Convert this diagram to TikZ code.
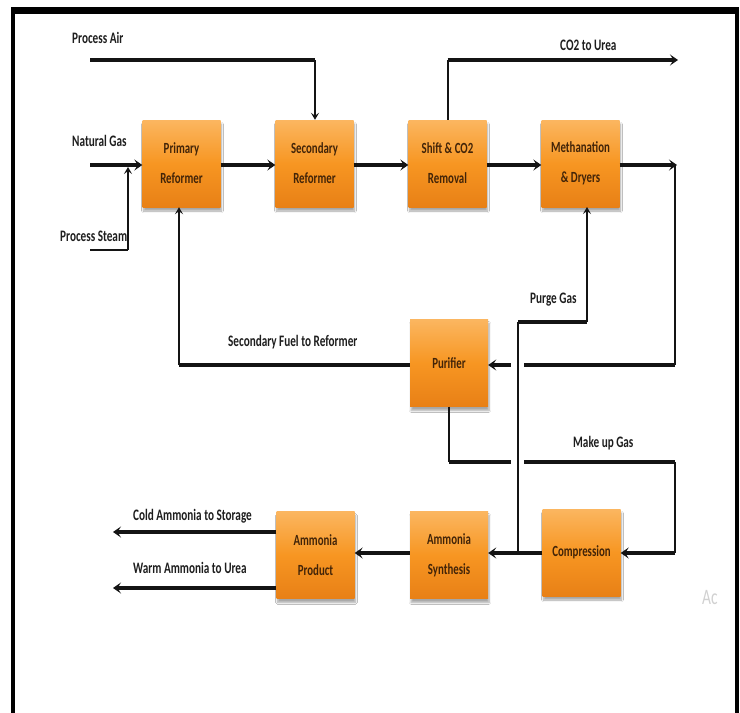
\documentclass[tikz,border=0pt]{standalone}
\usepackage{fontspec}
\setmainfont{Carlito}
\newfontfamily\lblfont[FakeStretch=0.7]{Carlito}
\usetikzlibrary{arrows.meta,shadows.blur,calc}
\definecolor{boxtop}{RGB}{251,182,96}
\definecolor{boxmid}{RGB}{247,150,34}
\definecolor{boxbot}{RGB}{232,128,22}
\definecolor{boxtext}{RGB}{66,36,8}
\definecolor{lbltext}{RGB}{30,30,30}
\definecolor{linec}{RGB}{20,20,20}
\begin{document}
\begin{tikzpicture}[x=1pt,y=-1pt,
  box/.style={minimum width=78pt, minimum height=87pt, inner sep=0pt,
    top color=boxtop, bottom color=boxbot, middle color=boxmid,
    blur shadow={shadow xshift=1pt, shadow yshift=-4pt, shadow blur steps=6, shadow opacity=35},
    text=boxtext, align=center, font=\lblfont\bfseries\fontsize{15.5}{30}\selectfont},
  lbl/.style={font=\lblfont\bfseries\fontsize{16}{18}\selectfont, text=lbltext, inner sep=0pt},
  flow/.style={line width=3.5pt, draw=linec},
  thinl/.style={line width=2pt, draw=linec},
  bigtip/.style={-{Stealth[length=8pt,width=11pt,inset=3.5pt]}},
  smalltip/.style={-{Stealth[length=7pt,width=8pt,inset=3pt]}},
]
\useasboundingbox (0,0) rectangle (740,713);
\fill[white] (0,0) rectangle (740,713);
% frame
\draw[line width=4pt] (13,713) -- (13,8);
\draw[line width=7pt] (11,10.5) -- (739,10.5);
\draw[line width=4pt] (737,8) -- (737,713);

% boxes
\node[box] (prim) at (181.5,163.5) {Primary\\Reformer};
\node[box] (sec) at (314.5,163.5) {Secondary\\Reformer};
\node[box] (shift) at (447.5,163.5) {Shift \& CO2\\Removal};
\node[box] (meth) at (580.5,163.5) {Methanation\\\& Dryers};
\node[box] (pur) at (449,363) {Purifier};
\node[box] (prod) at (315.5,555) {Ammonia\\Product};
\node[box] (synth) at (449,555) {Ammonia\\Synthesis};
\node[box] (comp) at (581.5,552.5) {Compression};

% labels
\node[lbl, anchor=west] (lpa) at (72,38) {Process Air};
\node[lbl, anchor=west] (lco2) at (560,45) {CO2 to Urea};
\node[lbl, anchor=west] (lng) at (72,141) {Natural Gas};
\node[lbl, anchor=west] (lps) at (60,236) {Process Steam};
\node[lbl, anchor=west] (lsf) at (228,342) {Secondary Fuel to Reformer};
\node[lbl, anchor=west] (lpg) at (530,300) {Purge Gas};
\node[lbl, anchor=west] (lmg) at (573,443) {Make up Gas};
\node[lbl, anchor=west] (lca) at (133,516) {Cold Ammonia to Storage};
\node[lbl, anchor=west] (lwa) at (133,568) {Warm Ammonia to Urea};
\node[font=\lblfont\fontsize{22}{24}\selectfont, text=black!18, anchor=west, inner sep=0pt] (wm) at (702,598) {Ac};

% coordinates
\coordinate (pa0) at (90,60);
\coordinate (pa1) at (315,60);
\coordinate (co1) at (447.5,60);
\coordinate (co2) at (678,60);
\coordinate (ng0) at (90,165);
\coordinate (ps0) at (90,250);
\coordinate (ps1) at (128,250);
\coordinate (ps2) at (128,167);
\coordinate (mr) at (677,165);
\coordinate (mr2) at (675,365);
\coordinate (fu1) at (179,365);
\coordinate (pg0) at (518,553);
\coordinate (pg1) at (518,322);
\coordinate (pg2) at (587,322);
\coordinate (pg3) at (587,207);
\coordinate (mu1) at (449,462);
\coordinate (mu2) at (675,462);
\coordinate (mu3) at (675,553);
\coordinate (ca) at (113,532);
\coordinate (wa) at (113,588);
\coordinate (gapA) at (518,365);
\coordinate (gapB) at (518,462);

% process air
\draw[flow] (pa0) -- (pa1);
\draw[thinl, smalltip] (pa1) -- (sec.north -| pa1);
% CO2 to urea
\draw[thinl] (shift.north) -- (co1);
\draw[flow, bigtip] (co1) -- (co2);
% natural gas and steam
\draw[flow, bigtip] (ng0) -- (prim.west |- ng0);
\draw[thinl] (ps0) -- (ps1);
\draw[thinl, smalltip] (ps1) -- (ps2);
% main flow
\draw[flow, bigtip] (prim.east |- ng0) -- (sec.west |- ng0);
\draw[flow, bigtip] (sec.east |- ng0) -- (shift.west |- ng0);
\draw[flow, bigtip] (shift.east |- ng0) -- (meth.west |- ng0);
\draw[flow, bigtip] (meth.east |- ng0) -- (mr);
% loop to purifier
\draw[thinl] ($(mr)+(-2,0)$) -- (mr2);
\draw[flow, bigtip] (mr2) -- (pur.east |- mr2);
% secondary fuel
\draw[flow] (pur.west |- mr2) -- (fu1);
\draw[thinl, smalltip] (fu1) -- (prim.south -| fu1);
% make up gas
\draw[thinl] (pur.south) -- (mu1);
\draw[flow] (mu1) -- (mu2);
\draw[thinl] (mu2) -- (mu3);
\draw[flow, bigtip] (mu3) -- (comp.east |- mu3);
% gaps
\fill[white] ($(gapA)+(-7,-4)$) rectangle ($(gapA)+(6,4)$);
\fill[white] ($(gapB)+(-7,-4)$) rectangle ($(gapB)+(6,4)$);
% purge gas
\draw[thinl] (pg0) -- (pg1);
\draw[flow] (pg1) -- (pg2);
\draw[thinl, smalltip] (pg2) -- (pg3);
% synthesis loop
\draw[flow, bigtip] (comp.west |- pg0) -- (synth.east |- pg0);
\draw[flow, bigtip] (synth.west |- pg0) -- (prod.east |- pg0);
% products
\draw[flow, bigtip] (prod.west |- ca) -- (ca);
\draw[flow, bigtip] (prod.west |- wa) -- (wa);
\end{tikzpicture}
\end{document}
